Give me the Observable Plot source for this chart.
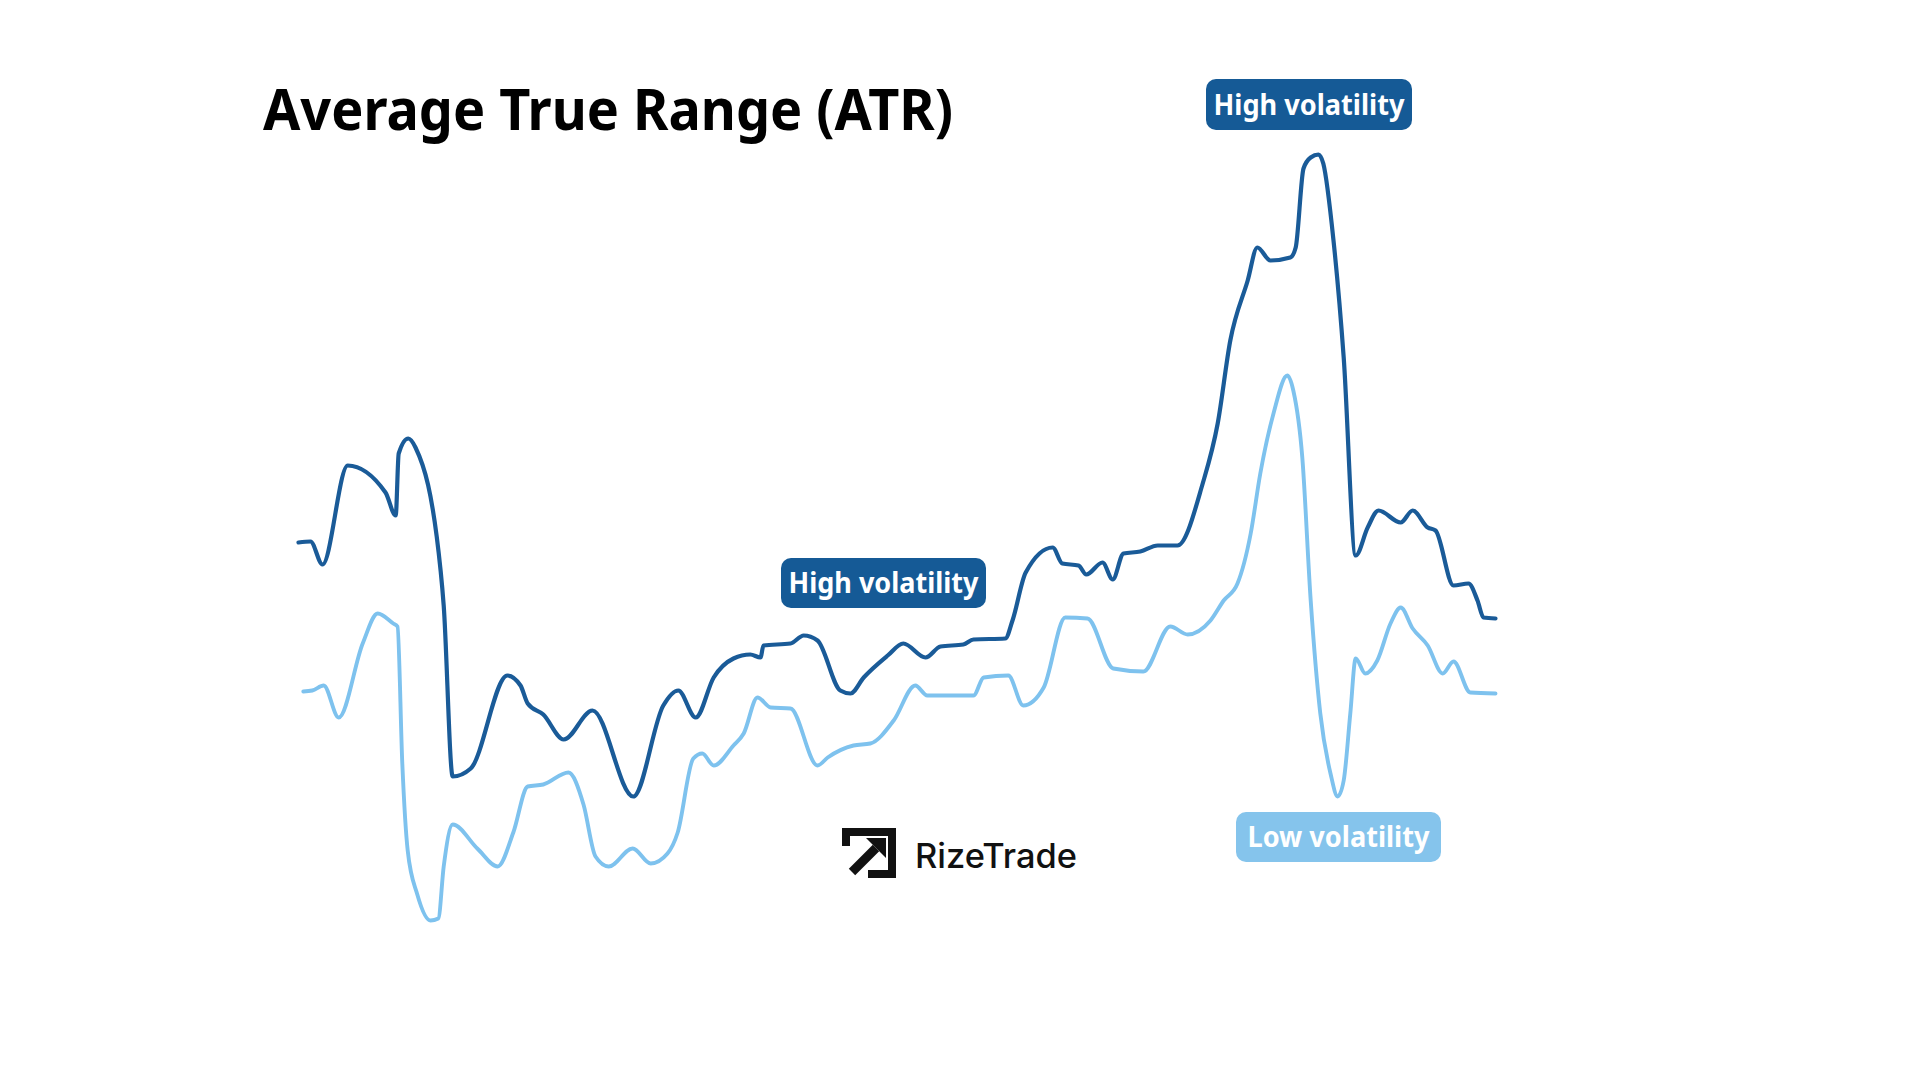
<!DOCTYPE html>
<html>
<head>
<meta charset="utf-8">
<script src="https://cdn.jsdelivr.net/npm/d3@7"></script>
<script src="https://cdn.jsdelivr.net/npm/@observablehq/plot@0.6"></script>
<style>
  html, body { margin: 0; padding: 0; background: #ffffff; }
  #wrap { position: relative; width: 1920px; height: 1080px; overflow: hidden; background: #fff; }
  #chart, #overlay { position: absolute; left: 0; top: 0; }
</style>
</head>
<body>
<div id="wrap">
  <div id="chart"></div>
  <svg id="overlay" width="1920" height="1080" xmlns="http://www.w3.org/2000/svg"></svg>
</div>
<script>
// ---- Data ----
const highDays = [0,2,4,8.2,14.5,16.2,16.7,18.3,19.5,23.7,24.2,25.7,28.7,34.8,37,38.2,40.8,44.2,49,55.8,60.8,63.3,66.2,69.2,72.5,75.3,77,77.5,82,84.2,86.5,90.3,92,94.2,98.2,100.8,104.5,107,110.8,112.5,117.8,119,121.2,125.7,127.3,130,131.3,134,135.7,137.5,140.3,143.2,146.5,150.7,153.2,155.3,158.2,159.8,162,165.3,166.2,167.5,168.7,170,170.8,172.5,174.2,176.2,178.2,180,183.7,185.7,188.2,189.5,192.5,195,196.5,197.5,199.5];
const highATR  = [4.38,4.39,4.16,5.15,4.88,4.65,5.27,5.42,5.33,4.09,3.75,2.04,2.12,3.05,2.95,2.77,2.66,2.41,2.70,1.84,2.75,2.90,2.63,3.03,3.22,3.26,3.23,3.35,3.37,3.45,3.40,2.90,2.87,3.03,3.25,3.37,3.23,3.34,3.36,3.41,3.42,3.60,4.08,4.33,4.17,4.15,4.06,4.18,4.01,4.27,4.29,4.35,4.35,4.97,5.57,6.40,7.00,7.33,7.20,7.23,7.33,8.12,8.23,8.26,8.17,7.40,6.23,4.25,4.53,4.70,4.58,4.70,4.53,4.50,3.95,3.97,3.80,3.63,3.62];

const lowDays = [0.8,2.3,4.2,6.7,10.7,13.2,15.8,16.5,17.3,18.2,19.8,22,23.3,24.2,25.7,29.8,33.2,35.8,38.2,40.8,45,47.5,49.5,51.7,55.7,58.7,61.5,63.2,65.8,67.3,69.2,72.5,74.2,76.5,78.7,82,86.5,88.2,92.5,95.3,99.2,102.8,104.8,112.5,114.2,118.3,120.8,124.2,127.8,131.5,135.8,140.8,145.3,148.2,152,154.2,156.5,158.7,160.3,162.5,164.8,165.8,167.3,168.7,170.3,172,173.2,174.2,175.3,176.2,177.8,179.8,182,183.7,185.7,188.2,190.7,192.5,195.3,199.5];
const lowATR  = [2.89,2.90,2.95,2.63,3.37,3.67,3.57,3.54,2.17,1.30,0.86,0.60,0.62,1.14,1.56,1.32,1.14,1.48,1.94,1.96,2.08,1.76,1.24,1.14,1.32,1.17,1.27,1.48,2.22,2.27,2.15,2.35,2.47,2.83,2.73,2.72,2.15,2.23,2.35,2.37,2.60,2.95,2.85,2.85,3.03,3.05,2.75,2.93,3.63,3.62,3.12,3.09,3.54,3.46,3.60,3.80,3.97,4.47,5.07,5.67,6.05,5.90,5.23,3.80,2.67,2.07,1.84,2.00,2.67,3.22,3.07,3.20,3.57,3.73,3.52,3.35,3.07,3.19,2.88,2.87];

const seriesNames = ["High volatility ATR", "Low volatility ATR"];
const seriesColors = ["#1a5b98", "#7ec2ee"];

const titleText = "Average True Range (ATR)";
const labelTexts = ["High volatility", "High volatility", "Low volatility"];
const brandText = "RizeTrade";

// ---- Build table ----
const rows = [
  ...highDays.map((d, i) => ({day: d, atr: highATR[i], series: seriesNames[0]})),
  ...lowDays.map((d, i) => ({day: d, atr: lowATR[i], series: seriesNames[1]}))
];

const chart = Plot.plot({
  width: 1920,
  height: 1080,
  margin: 0,
  x: {domain: [0, 199.5], range: [298, 1495], axis: null},
  y: {domain: [0, 9.8], range: [980, 0], axis: null},
  color: {domain: seriesNames, range: seriesColors},
  style: {background: "transparent"},
  marks: [
    Plot.line(rows.filter(r => r.series === seriesNames[1]), {x: "day", y: "atr", stroke: "series", strokeWidth: 3.9, curve: "monotone-x", strokeLinejoin: "round", strokeLinecap: "round"}),
    Plot.line(rows.filter(r => r.series === seriesNames[0]), {x: "day", y: "atr", stroke: "series", strokeWidth: 4.2, curve: "monotone-x", strokeLinejoin: "round", strokeLinecap: "round"})
  ]
});
document.getElementById("chart").appendChild(chart);

// ---- Overlay: title, callouts, brand ----
const ns = "http://www.w3.org/2000/svg";
const ov = document.getElementById("overlay");
function el(tag, attrs, text) {
  const e = document.createElementNS(ns, tag);
  for (const k in attrs) e.setAttribute(k, attrs[k]);
  if (text != null) e.textContent = text;
  ov.appendChild(e);
  return e;
}
el("text", {x: 263, y: 130, "font-family": "'Noto Sans', 'Open Sans', sans-serif", "font-weight": 700, "font-size": 57, fill: "#000", textLength: 690, lengthAdjust: "spacingAndGlyphs"}, titleText);

const boxes = [
  {x: 1206, y: 79, w: 206, h: 51, fill: "#155a96", tw: 191},
  {x: 781, y: 558, w: 205, h: 50, fill: "#155a96", tw: 190},
  {x: 1236, y: 812, w: 205, h: 50, fill: "#85c4ec", tw: 182}
];
boxes.forEach((b, i) => {
  el("rect", {x: b.x, y: b.y, width: b.w, height: b.h, rx: 10, ry: 10, fill: b.fill});
  el("text", {x: b.x + b.w / 2, y: b.y + b.h / 2 + 10, "text-anchor": "middle", "font-family": "'Noto Sans', 'Open Sans', sans-serif", "font-weight": 700, "font-size": 29, fill: "#fff", textLength: b.tw, lengthAdjust: "spacingAndGlyphs"}, labelTexts[i]);
});

// brand logo
el("path", {d: "M846,846 L846,832 L892,832 L892,874 L868,874", fill: "none", stroke: "#111", "stroke-width": 8, "stroke-linejoin": "miter"});
el("path", {d: "M852,872 L876,848", fill: "none", stroke: "#111", "stroke-width": 9});
el("path", {d: "M866,838 L886,838 L886,858 Z", fill: "#111"});
el("text", {x: 915, y: 868, "font-family": "Inter, Roboto, sans-serif", "font-weight": 500, "font-size": 34, fill: "#111", textLength: 162, lengthAdjust: "spacingAndGlyphs"}, brandText);
</script>
</body>
</html>
